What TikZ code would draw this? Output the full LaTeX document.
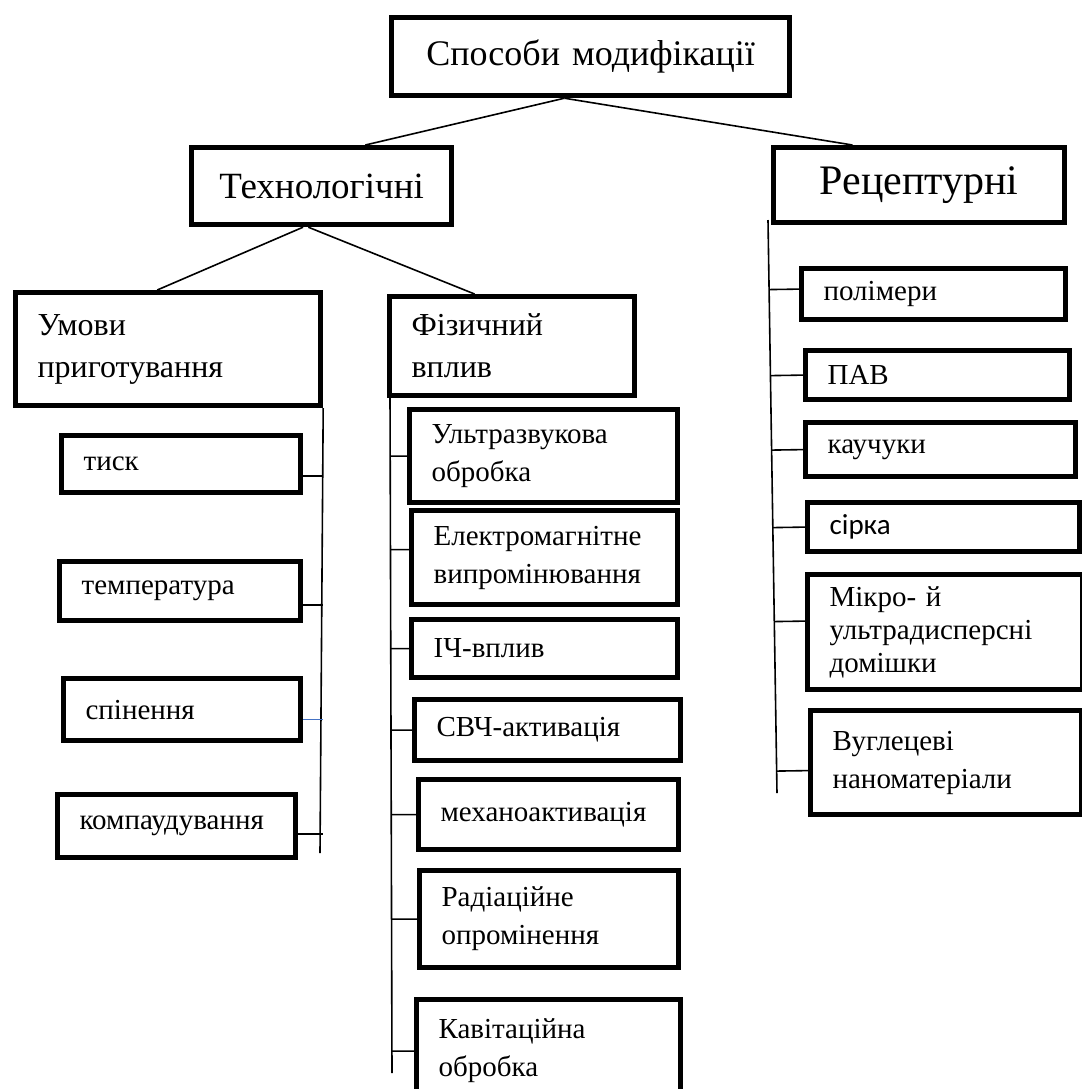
\documentclass[tikz,border=0pt]{standalone}
\usepackage{fontspec}
\setmainfont{Liberation Serif}
\newfontfamily\sirkafont{Carlito}
\usetikzlibrary{calc}
\definecolor{tickblue}{RGB}{68,114,196}
\tikzstyle{box} = [rectangle, draw=black, line width=2.6pt, inner xsep=11pt, inner ysep=0pt, anchor=north west, align=left]
\tikzstyle{head} = [box, align=center]
\tikzstyle{group} = [box, font=\fontsize{16}{21}\selectfont]
\tikzstyle{item} = [box, font=\fontsize{14.5}{19}\selectfont]
\tikzstyle{link} = [line width=0.8pt]

\begin{document}
\begin{tikzpicture}[x=0.5pt, y=-0.5pt]
        \useasboundingbox (0,0) rectangle (1082,1089);
        % top levels
        \node (top) [head, text width=177pt, minimum height=39pt, font=\fontsize{18}{22}\selectfont] at (389,15) {Способи модифікації};
        \node (tech) [head, text width=108pt, minimum height=38.5pt, font=\fontsize{18.5}{22}\selectfont] at (189,145) {Технологічні};
        \node (rec) [head, text width=123.5pt, minimum height=37.5pt, font=\fontsize{21}{24}\selectfont] at (771,145) {Рецептурні};
        \node (umovy) [group, text width=130.5pt, minimum height=56.5pt] at (13,290) {Умови\\приготування};
        \node (fiz) [group, text width=100.5pt, minimum height=49.5pt] at (387,294) {Фізичний\\вплив};

        % conditions
        \node (tysk) [item, text width=97.5pt, minimum height=28.5pt] at (59,433) {тиск};
        \node (temp) [item, text width=98.5pt, minimum height=29.5pt] at (57,559) {температура};
        \node (spin) [item, text width=96.5pt, minimum height=31pt] at (61,676) {спінення};
        \node (komp) [item, text width=97pt, minimum height=31.5pt] at (55,792) {компаудування};

        % physical
        \node (ultra) [item, text width=112pt, minimum height=46.5pt] at (407,407) {Ультразвукова\\обробка};
        \node (elek) [item, text width=111pt, minimum height=47pt] at (409,508) {Електромагнітне\\випромінювання};
        \node (ich) [item, text width=111pt, minimum height=29pt] at (409,617) {ІЧ-вплив};
        \node (svch) [item, text width=111pt, minimum height=30.5pt] at (412,697) {СВЧ-активація};
        \node (mech) [item, text width=108pt, minimum height=35pt] at (416,777) {механоактивація};
        \node (rad) [item, text width=107.5pt, minimum height=48.5pt] at (417,868) {Радіаційне\\опромінення};
        \node (kav) [item, text width=110pt, minimum height=51.5pt] at (414,997) {Кавітаційна\\обробка};

        % recipe
        \node (poly) [item, text width=110pt, minimum height=25.5pt] at (799,266) {полімери};
        \node (pav) [item, text width=110pt, minimum height=24.5pt] at (803,348) {ПАВ};
        \node (kauch) [item, text width=113pt, minimum height=27pt] at (803,420) {каучуки};
        \node (sirka) [item, text width=114pt, minimum height=24.5pt, font=\sirkafont\fontsize{14.5}{18}\selectfont] at (805,500) {сірка};
        \node (mikro) [item, text width=115.5pt, minimum height=57.5pt, font=\fontsize{14.5}{16.5}\selectfont] at (805,572) {Мікро- й\\ультрадисперсні\\домішки};
        \node (vugl) [item, text width=113.5pt, minimum height=52pt] at (808,708) {Вуглецеві\\наноматеріали};

        % trunks
        \coordinate (lt) at (umovy.south east);
        \coordinate (lb) at (320,853);
        \coordinate (ft) at (390,393);
        \coordinate (fb) at (392,1073);
        \coordinate (rt) at (768,220);
        \coordinate (rb) at (777,793);

        \draw [link] ($(top.south west)!0.435!(top.south east)$) -- ($(tech.north west)!0.665!(tech.north east)$);
        \draw [link] ($(top.south west)!0.435!(top.south east)$) -- ($(rec.north west)!0.275!(rec.north east)$);
        \draw [link] ($(tech.south west)!0.43!(tech.south east)$) -- ($(umovy.north west)!0.465!(umovy.north east)$);
        \draw [link] ($(tech.south west)!0.45!(tech.south east)$) -- ($(fiz.north west)!0.35!(fiz.north east)$);

        \draw [link] (lt) -- (lb);
        \draw [link] (ft) -- (fb);
        \draw [link] (rt) -- (rb);

        \draw [link] ([yshift=-6pt]tysk.east) -- ([yshift=-6pt]tysk.east -| lt);
        \draw [link] ([yshift=-7pt]temp.east) -- ([yshift=-7pt]temp.east -| lt);
        \draw [link, tickblue] ([yshift=-5pt]spin.east) -- ([yshift=-5pt]spin.east -| lt);
        \draw [link] ([yshift=-4pt]komp.east) -- ([yshift=-4pt]komp.east -| lt);

        \draw [link] (ultra.west) -- ($(ft)!(ultra.west)!(fb)$);
        \draw [link] ([yshift=4pt]elek.west) -- ($(ft)!([yshift=4pt]elek.west)!(fb)$);
        \draw [link] (ich.west) -- ($(ft)!(ich.west)!(fb)$);
        \draw [link] (svch.west) -- ($(ft)!(svch.west)!(fb)$);
        \draw [link] (mech.west) -- ($(ft)!(mech.west)!(fb)$);
        \draw [link] (rad.west) -- ($(ft)!(rad.west)!(fb)$);
        \draw [link] (kav.west) -- ($(ft)!(kav.west)!(fb)$);

        \draw [link] ([yshift=2.5pt]poly.west) -- ($(rt)!([yshift=2.5pt]poly.west)!(rb)$);
        \draw [link] (pav.west) -- ($(rt)!(pav.west)!(rb)$);
        \draw [link] (kauch.west) -- ($(rt)!(kauch.west)!(rb)$);
        \draw [link] (sirka.west) -- ($(rt)!(sirka.west)!(rb)$);
        \draw [link] ([yshift=5.5pt]mikro.west) -- ($(rt)!([yshift=5.5pt]mikro.west)!(rb)$);
        \draw [link] ([yshift=-4pt]vugl.west) -- ($(rt)!([yshift=-4pt]vugl.west)!(rb)$);
\end{tikzpicture}
\end{document}
